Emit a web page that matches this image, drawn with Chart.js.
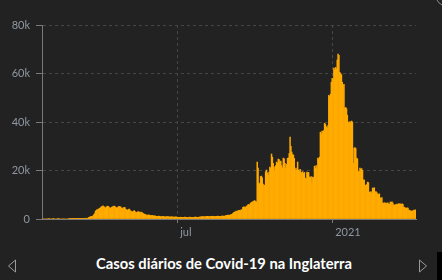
<!DOCTYPE html>
<html>
<head>
<meta charset="utf-8">
<script src="https://cdn.jsdelivr.net/npm/chart.js@4"></script>
<style>
  html, body { margin: 0; padding: 0; background: #222222; }
  #wrap { position: relative; width: 442px; height: 280px; overflow: hidden; background: #222222; }
  #grafico { position: absolute; left: 0; top: 0; }
  #titulo { position: absolute; left: 3px; top: 254px; width: 442px; text-align: center;
    font: bold 14.75px Lato, sans-serif; color: #ffffff; line-height: 18px; }
  .seta { position: absolute; top: 259px; }
  #canto { position: absolute; left: 437px; top: 252px; width: 10px; height: 40px; background: #000; }
  #circulo { position: absolute; left: 434px; top: -24px; width: 30px; height: 30px; border: 1px solid #8a8a8a; border-radius: 50%; }
</style>
</head>
<body>
<div id="wrap">
  <canvas id="grafico" width="442" height="245"></canvas>
  <div id="titulo">Casos diários de Covid-19 na Inglaterra</div>
  <svg class="seta" style="left:7px" width="10" height="14"><polygon points="8.5,1 1.5,7 8.5,13" fill="none" stroke="#9a9a9a" stroke-width="1"/></svg>
  <svg class="seta" style="left:418px" width="10" height="14"><polygon points="1.5,1 8.5,7 1.5,13" fill="none" stroke="#9a9a9a" stroke-width="1"/></svg>
  <div id="canto"></div>
  <div id="circulo"></div>
</div>
<script>
var dataInicio = '2020-01-23';
var casosDiarios = [
  0,0,0,0,0,0,0,0,2,0,
  0,0,0,1,0,0,0,0,0,1,
  0,0,0,0,0,0,0,0,0,0,
  0,0,4,1,3,2,5,6,12,
  13,8,28,32,45,53,40,60,80,120,
  160,210,340,230,150,400,
  650,700,1000,1050,1000,1300,
  1700,2200,
  3200,3600,3900,4000,4200,4400,
  4700,5000,5200,5400,5100,4800,4500,5000,5300,5200,4900,4600,
  4400,4800,5000,5100,5300,5200,4800,4500,4700,5000,5200,5100,4900,4500,4300,4600,4800,4700,
  4000,3800,3500,3900,4100,3700,
  3300,3000,2900,3200,3500,3100,2800,2600,2900,3100,2800,2500,
  2900,2700,2400,2200,2000,1800,
  1700,1600,1500,1700,1600,1400,1300,1500,
  1400,1300,1200,1300,1100,1000,1100,1200,1100,1000,
  900,1000,1100,1000,900,850,900,1000,950,850,
  800,850,900,850,800,750,800,850,800,750,
  700,650,700,750,700,600,650,700,750,700,
  650,600,650,700,750,700,650,600,650,700,
  750,800,700,650,700,750,800,
  850,900,1000,950,900,850,1000,1050,1100,1000,
  950,900,1050,1100,1150,1050,1000,950,1100,1150,
  1200,1100,1000,1050,1150,1200,1250,1150,1100,
  1300,1400,1500,1600,1550,1500,1700,1800,1900,2200,2600,2800,
  2900,3300,3200,3400,
  3500,3600,3500,3800,3900,
  4800,5000,4900,4700,5200,5400,
  5800,6000,5700,
  6500,6800,7000,7200,7400,7600,7200,7000,
  23500,21000,
  14800,14500,
  17500,17700,17000,
  14400,13500,14000,
  19500,20200,19000,
  18000,19400,
  21400,21000,
  26800,25500,
  23000,21500,20000,22000,23500,23000,
  24700,24500,
  23500,23900,22000,21000,
  25100,24800,
  23000,21000,22500,
  25000,25200,
  27000,33800,30000,
  27600,26500,
  26400,25000,
  20200,21000,20000,
  23500,
  20200,19800,20500,
  19400,19000,19500,18800,19200,
  16900,16500,
  19400,19000,19200,
  17300,17000,17500,
  15200,
  17300,17000,
  21800,21000,22000,
  20600,
  25100,24800,25500,
  35800,35000,
  36300,36000,36500,
  39500,39000,
  38000,37500,38500,
  51000,50500,51500,
  56400,
  58000,57500,
  62200,61500,62500,62000,
  65500,
  68000,67500,
  60500,60000,59500,
  56400,
  55200,55500,
  45700,46000,45500,
  42800,
  40000,39500,40200,39800,
  40400,40000,
  23000,
  29200,29500,29000,
  25100,24800,
  19400,19800,
  21000,20500,20800,
  20000,
  16000,16200,
  14000,13800,14200,
  15200,15000,
  11100,11000,11300,
  10700,
  12800,12600,12900,
  11100,11300,10900,
  10300,10100,10400,
  8700,8500,8800,
  6600,6500,6700,6600,6400,6600,6700,
  6200,6100,
  7000,6900,7100,
  6600,
  5800,5700,5900,5800,
  6200,6100,6300,6200,
  6200,6000,6300,6100,
  4900,4800,
  4500,4400,4600,4500,
  3700,3600,
  3300,3200,3400,3300,
  3700,3600,3800
];
var marcasDatas = ['2020-07-01', '2021-01-01'];
var marcasTextos = ['jul', '2021'];
var yMarcas = [0, 20000, 40000, 60000, 80000];

// um rótulo por dia, a partir da data inicial
var dias = [];
var t0 = Date.parse(dataInicio + 'T00:00:00Z');
for (var i = 0; i < casosDiarios.length; i++) {
  dias.push(new Date(t0 + i * 86400000).toISOString().slice(0, 10));
}

var corTexto = '#8e97a2';
var corGrade = '#464646';
var corEixo = '#7a7a7a';

var ctx = document.getElementById('grafico');
var grafico = new Chart(ctx, {
  type: 'bar',
  data: {
    labels: dias,
    datasets: [{
      label: 'Casos diários',
      data: casosDiarios,
      backgroundColor: '#ffab00',
      borderWidth: 0,
      barPercentage: 1,
      categoryPercentage: 1
    }]
  },
  options: {
    responsive: false,
    animation: false,
    events: [],
    layout: { padding: { top: 25, right: 26, left: 0, bottom: 0 } },
    plugins: { legend: { display: false }, tooltip: { enabled: false } },
    scales: {
      x: {
        grid: { offset: false, color: corGrade, tickColor: corEixo, tickLength: 4, drawTicks: true },
        border: { color: corEixo, dash: [3, 3] },
        ticks: {
          autoSkip: false, maxRotation: 0, minRotation: 0, padding: 3,
          align: 'start', labelOffset: 3,
          color: corTexto, font: { family: 'Lato', size: 11 },
          callback: function (val) {
            var k = marcasDatas.indexOf(this.getLabelForValue(val));
            return k >= 0 ? marcasTextos[k] : null;
          }
        },
        afterFit: function (s) { s.height = 26; }
      },
      y: {
        min: 0, max: 80000,
        afterBuildTicks: function (s) { s.ticks = yMarcas.map(function (v) { return { value: v }; }); },
        grid: { color: corGrade, tickColor: corEixo, tickLength: 6 },
        border: { color: corEixo, dash: [3, 3] },
        ticks: {
          padding: 6, color: corTexto, font: { family: 'Lato', size: 11 },
          callback: function (v) { return v === 0 ? '0' : (v / 1000) + 'k'; }
        },
        afterFit: function (s) { s.width = 42; }
      }
    }
  }
});
</script>
</body>
</html>
